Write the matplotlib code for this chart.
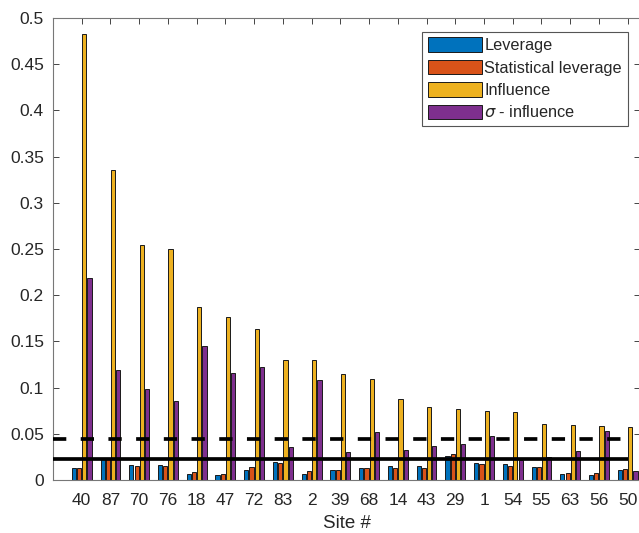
import matplotlib
matplotlib.use("Agg")
import matplotlib.pyplot as plt
import numpy as np

sites = ["40", "87", "70", "76", "18", "47", "72", "83", "2", "39",
         "68", "14", "43", "29", "1", "54", "55", "63", "56", "50"]
leverage = [0.0127, 0.0235, 0.0166, 0.0166, 0.0061, 0.0054, 0.0112, 0.0195, 0.0065, 0.0108,
            0.0133, 0.0152, 0.0152, 0.0260, 0.0180, 0.0177, 0.0141, 0.0065, 0.0054, 0.0108]
stat_leverage = [0.0127, 0.0225, 0.0152, 0.0152, 0.0083, 0.0069, 0.0141, 0.0180, 0.0094, 0.0112,
                 0.0133, 0.0133, 0.0126, 0.0278, 0.0170, 0.0152, 0.0141, 0.0072, 0.0072, 0.0115]
influence = [0.4823, 0.3355, 0.2547, 0.2504, 0.1876, 0.1761, 0.1631, 0.1299, 0.1299, 0.1147,
             0.1090, 0.0877, 0.0787, 0.0765, 0.0743, 0.0740, 0.0603, 0.0592, 0.0584, 0.0574]
sigma_influence = [0.2186, 0.1190, 0.0981, 0.0851, 0.1454, 0.1160, 0.1220, 0.0354, 0.1080, 0.0303,
                   0.0523, 0.0325, 0.0368, 0.0390, 0.0476, 0.0216, 0.0253, 0.0314, 0.0530, 0.0094]
series_names = ["Leverage", "Statistical leverage", "Influence", r"$\sigma$ - influence"]
colors = ["#0072BD", "#D95319", "#EDB120", "#7E2F8E"]
threshold_solid = 2 / 90
threshold_dashed = 4 / 90
yticks = [0, 0.05, 0.1, 0.15, 0.2, 0.25, 0.3, 0.35, 0.4, 0.45, 0.5]
ytick_labels = ["0", "0.05", "0.1", "0.15", "0.2", "0.25", "0.3", "0.35", "0.4", "0.45", "0.5"]

plt.rcParams['font.family'] = ['Liberation Sans', 'DejaVu Sans']

W, H = 639, 533
fig = plt.figure(figsize=(W / 100, H / 100), dpi=100)
left_px, right_px, top_px, bot_px = 53, 640, 18, 480
ax = fig.add_axes([left_px / W, 1 - bot_px / H, (right_px - left_px) / W, (bot_px - top_px) / H])

x = np.arange(1, len(sites) + 1)
data = [leverage, stat_leverage, influence, sigma_influence]
slot = 0.7273 / 4
bw = slot * 0.8
for i, (vals, c, name) in enumerate(zip(data, colors, series_names)):
    ax.bar(x + (i - 1.5) * slot, vals, width=bw, color=c, edgecolor="#1a1a1a",
           linewidth=0.7, label=name, zorder=2)

ax.plot([0, 20], [threshold_solid] * 2, color="black", lw=2.66, solid_capstyle="butt", zorder=3)
ax.plot([0, 20], [threshold_dashed] * 2, color="black", lw=2.66,
        linestyle=(0, (3.6, 3.9)), dash_capstyle="butt", zorder=3)

scale = (627.7 - 53) / 20.0
ax.set_xlim(0, (right_px - 53) / scale)
ax.set_ylim(0, 0.5)
ax.set_xticks(x)
ax.set_xticklabels(sites)
ax.set_yticks(yticks)
ax.set_yticklabels(ytick_labels)
ax.tick_params(direction="in", length=4.3, width=0.6, color="#262626",
               labelcolor="#262626", labelsize=12.5, top=True, right=True, pad=6.5)
ax.tick_params(axis="x", pad=9.5)
for s in ax.spines.values():
    s.set_color("#777777")
    s.set_linewidth(0.8)
ax.set_xlabel("Site #", fontsize=13.5, color="#262626", labelpad=5)

leg = ax.legend(loc="upper right", bbox_to_anchor=(627.5 / W, 1 - 31.7 / H),
                bbox_transform=fig.transFigure, borderaxespad=0, fontsize=11.7,
                fancybox=False, framealpha=1, edgecolor="#555555",
                handlelength=3.3, handleheight=1.0, handletextpad=0.15,
                labelspacing=0.4, borderpad=0.35)
leg.get_frame().set_linewidth(0.8)
for t in leg.get_texts():
    t.set_color("#262626")

fig.savefig("out.png", dpi=100)
